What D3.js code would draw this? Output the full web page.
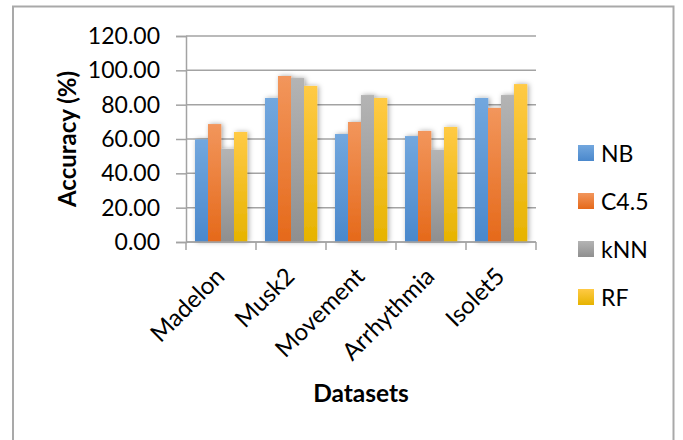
<!DOCTYPE html>
<html><head><meta charset="utf-8">
<script src="https://cdn.jsdelivr.net/npm/d3@7"></script>
<style>body{margin:0;background:#fff}svg{display:block}</style>
</head><body>
<svg id="c" width="683" height="440"></svg>
<script>
const categories = ["Madelon","Musk2","Movement","Arrhythmia","Isolet5"];
const seriesNames = ["NB","C4.5","kNN","RF"];
const NB   = [59.8, 83.9, 62.9, 61.7, 83.9];
const C45  = [68.7, 96.7, 69.9, 64.7, 78.1];
const kNN  = [54.2, 95.5, 85.6, 53.6, 85.6];
const RF   = [64.1, 90.9, 83.9, 67.0, 92.0];
const yTicks = [0,20,40,60,80,100,120];
const seriesValues = [NB, C45, kNN, RF];
const colors = [["#72a7de","#4a88cc"],["#f2965c","#e5691a"],["#b4b4b4","#8f8f8f"],["#ffca45","#e6b300"]];

const font = "Lato, 'Open Sans', sans-serif";
const svg = d3.select("#c");
const defs = svg.append("defs");
colors.forEach((c,i)=>{
  const g = defs.append("linearGradient").attr("id","g"+i).attr("x1",0).attr("y1",0).attr("x2",0).attr("y2",1);
  g.append("stop").attr("offset","0%").attr("stop-color",c[0]);
  g.append("stop").attr("offset","100%").attr("stop-color",c[1]);
});
const f = defs.append("filter").attr("id","sh").attr("x","-30%").attr("y","-10%").attr("width","160%").attr("height","120%");
f.append("feDropShadow").attr("dx",1.5).attr("dy",0).attr("stdDeviation",2.5).attr("flood-color","#000").attr("flood-opacity",0.35);

// outer frame
svg.append("rect").attr("x",13).attr("y",6.5).attr("width",660.5).attr("height",480)
  .attr("fill","none").attr("stroke","#a9a9a9").attr("stroke-width",2);

const L=186, R=536, T=36, B=242;
const y = d3.scaleLinear().domain([0,120]).range([B,T]);
const pIn = 18/70;
const x0 = d3.scaleBand().domain(categories).range([L,R]).paddingInner(pIn).paddingOuter(pIn/2);
const x1 = d3.scaleBand().domain(seriesNames).range([0,x0.bandwidth()]);

// gridlines
svg.append("g").selectAll("line").data(yTicks).join("line")
  .attr("x1",L).attr("x2",R).attr("y1",d=>y(d)).attr("y2",d=>y(d))
  .attr("stroke","#a3a3a3").attr("stroke-width",1.5);

// y axis
const ya = svg.append("g").attr("transform",`translate(${L},0)`)
  .call(d3.axisLeft(y).tickValues(yTicks).tickSize(10).tickPadding(16).tickFormat(d=>d.toFixed(2)));
ya.select(".domain").attr("stroke","#a3a3a3").attr("stroke-width",1.5);
ya.selectAll(".tick line").attr("stroke","#a3a3a3").attr("stroke-width",1.5);
ya.selectAll("text").attr("font-family",font).attr("font-size",23).attr("fill","#000");

// bars
const groups = svg.append("g").selectAll("g").data(categories).join("g")
  .attr("transform",d=>`translate(${x0(d)},0)`).attr("filter","url(#sh)");
groups.selectAll("rect").data((d,ci)=>seriesNames.map((s,si)=>({s,si,v:seriesValues[si][ci]}))).join("rect")
  .attr("x",d=>x1(d.s)).attr("width",x1.bandwidth()+0.3)
  .attr("y",d=>y(d.v)).attr("height",d=>B-y(d.v))
  .attr("fill",d=>`url(#g${d.si})`);

// x axis
const xa = svg.append("g").attr("transform",`translate(0,${B})`)
  .call(d3.axisBottom(x0).tickSize(0).tickFormat(""));
xa.select(".domain").attr("stroke","#a3a3a3").attr("stroke-width",1.5).attr("d",`M${L},0H${R}`);
const bounds = categories.map(c=>x0(c)-x0.step()*pIn/2).concat([R]);
svg.append("g").selectAll("line").data(bounds).join("line")
  .attr("x1",d=>d).attr("x2",d=>d).attr("y1",B).attr("y2",B+8)
  .attr("stroke","#a3a3a3").attr("stroke-width",1.5);
svg.append("g").selectAll("text").data(categories).join("text")
  .attr("transform",d=>`translate(${x0(d)+x0.bandwidth()/2+5},278) rotate(-45)`)
  .attr("text-anchor","end").attr("font-family",font).attr("font-size",24).attr("fill","#000")
  .text(d=>d);

// axis titles
svg.append("text").attr("x",(L+R)/2).attr("y",402).attr("text-anchor","middle")
  .attr("font-family",font).attr("font-weight","bold").attr("font-size",24.5).text("Datasets");
svg.append("text").attr("transform",`translate(76,${(T+B)/2}) rotate(-90)`).attr("text-anchor","middle")
  .attr("font-family",font).attr("font-weight","bold").attr("font-size",24).text("Accuracy (%)");

// legend
const lg = svg.append("g").selectAll("g").data(seriesNames).join("g")
  .attr("transform",(d,i)=>`translate(578,${153+i*48})`);
lg.append("rect").attr("x",0).attr("y",-8).attr("width",16).attr("height",16).attr("fill",(d,i)=>`url(#g${i})`);
lg.append("text").attr("x",23).attr("y",8.5).attr("font-family",font).attr("font-size",23).text(d=>d);
</script>
</body></html>
